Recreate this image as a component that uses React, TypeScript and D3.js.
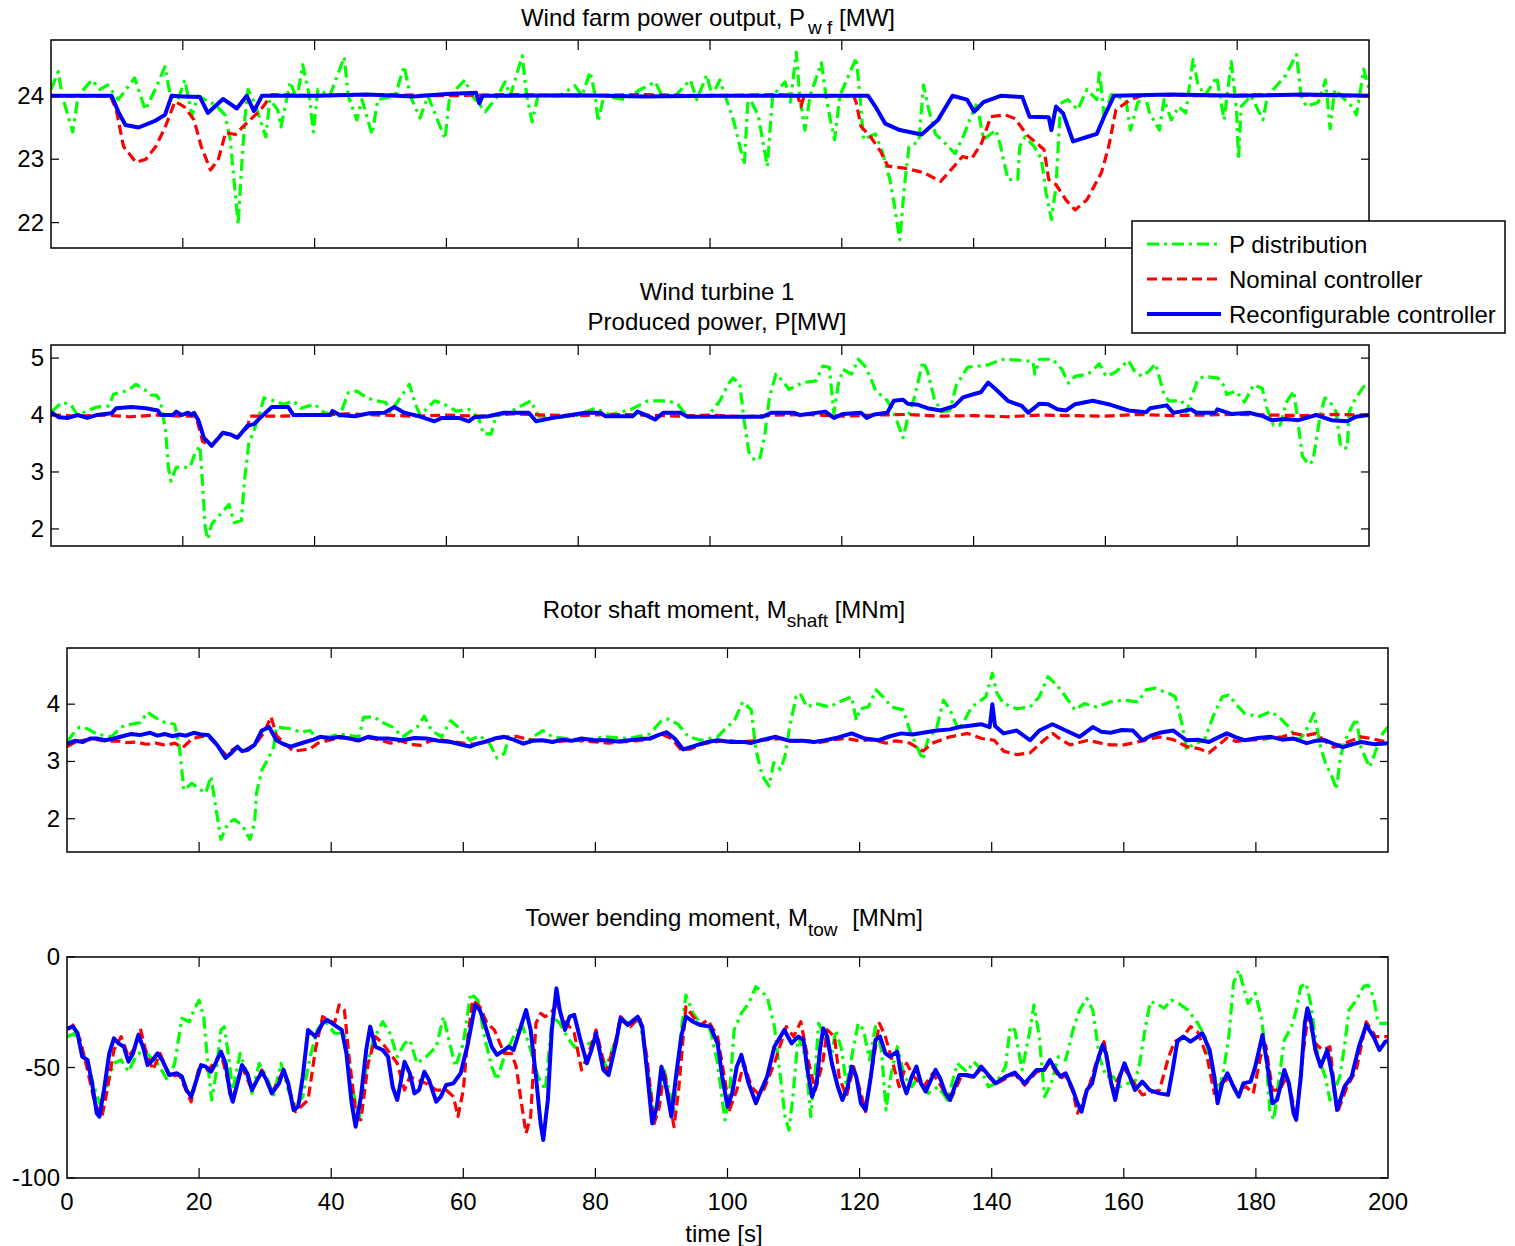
import React from "react";
import * as d3 from "d3";

type Pt = [number, number];

const FONT = '"Liberation Sans", Arial, Helvetica, sans-serif';

// time axis (shared)
const TIME_TICKS = [0, 20, 40, 60, 80, 100, 120, 140, 160, 180, 200];

const SERIES_LABELS = ["P distribution", "Nominal controller", "Reconfigurable controller"];

// ---------------- Wind farm power output [MW] ----------------
const pwfDist: Pt[] = [
  [0, 24.1], [1.1, 24.38], [1.7, 24], [3.3, 23.43], [4.1, 24], [6.2, 24.25], [7.4, 24.1], [8.6, 24.17],
  [10.2, 23.94], [12.7, 24.28], [14.3, 23.78], [15.8, 24.1], [17.3, 24.46], [18.1, 24], [19.3, 23.94],
  [20.3, 24.25], [21.4, 23.69], [22.3, 24], [23.4, 23.94], [24.9, 23.86], [26.4, 23.7], [27.2, 23.31],
  [27.9, 22.52], [28.4, 21.97], [28.8, 22.68], [29.4, 23.62], [29.9, 24.1], [31, 23.86], [32.6, 23.35],
  [33.2, 23.94], [34.4, 23.78], [34.9, 23.51], [36.3, 24.22], [37.3, 23.94], [38.2, 24.49], [39.2, 24],
  [39.8, 23.43], [40.5, 24.1], [42.3, 24], [44.5, 24.61], [45.1, 24], [46.4, 23.62], [47.2, 23.94],
  [48.7, 23.39], [49.6, 23.94], [52.2, 24], [53.6, 24.47], [54.5, 24], [56, 23.65], [57.2, 24],
  [59.8, 23.32], [60.5, 24], [62.8, 24.25], [63.9, 24], [65.9, 23.75], [67.8, 24], [68.9, 24.22],
  [69.7, 24], [71.5, 24.63], [72.2, 24], [73, 23.59], [73.9, 24], [77.2, 24], [79.5, 24.16], [80.6, 24],
  [81.8, 24.38], [82.6, 24], [83, 23.59], [83.9, 24], [87.1, 23.94], [89.4, 24.1], [91.7, 24.22],
  [92.7, 24], [94.7, 24], [97, 24.25], [98, 23.94], [99.5, 24.33], [100.3, 24], [101.5, 24.25],
  [102.3, 24], [103.6, 23.6], [105.2, 22.91], [105.8, 24], [107.3, 23.7], [108.7, 22.89], [109.5, 24],
  [111.4, 24.22], [112.2, 23.9], [113.1, 24.69], [113.6, 24], [114.4, 23.46], [115.2, 24], [116.9, 24.52],
  [117.6, 24], [118.2, 23.65], [118.9, 23.31], [119.7, 24], [122.2, 24.6], [122.8, 23.94], [123.3, 23.31],
  [125.1, 23.4], [126.2, 23.1], [127.3, 22.68], [128, 22.26], [128.8, 21.73], [129.5, 22.57], [130.2, 23.2],
  [131.7, 23.28], [132.4, 24.17], [133.2, 23.78], [134.2, 23.4], [135.7, 23.25], [137.2, 23.09],
  [138.6, 23.4], [139.4, 23.62], [140.5, 23.88], [141.5, 23.31], [143.4, 23.46], [144.1, 23.2],
  [145.2, 22.68], [146.7, 22.68], [147, 23.2], [147.8, 23.35], [149.2, 23.2], [150.3, 23.0], [151, 22.47],
  [151.8, 22.05], [152.5, 22.57], [153.2, 23.88], [154.3, 23.94], [155.8, 23.78], [157.2, 24.1],
  [158.7, 23.94], [159.1, 24.41], [159.8, 23.67], [160.9, 24.02], [163.1, 23.94], [163.8, 23.46],
  [164.9, 23.89], [166, 24], [166.7, 23.73], [168.2, 23.46], [168.9, 23.94], [170, 23.62], [171.1, 23.83],
  [172.2, 23.73], [173.3, 24.57], [174, 24.2], [175.1, 24], [176.9, 24.3], [178, 23.62], [179.1, 24.54],
  [179.9, 23.78], [180.2, 23.0], [180.6, 23.83], [182.1, 24], [183.9, 23.62], [184.6, 24], [187.2, 24.3],
  [189, 24.65], [189.7, 24], [190.5, 23.83], [192.3, 23.9], [193.4, 24.25], [194.1, 23.48], [194.8, 24.1],
  [197.4, 23.83], [198.1, 23.7], [199.2, 24.42], [200, 24.1],
];
const pwfNominal: Pt[] = [
  [0, 24], [9, 24], [9.9, 23.78], [11, 23.2], [12.9, 22.95], [14.4, 23.0], [15.9, 23.2], [17.3, 23.5],
  [18.8, 23.91], [20.2, 23.83], [21.7, 23.62], [22.8, 23.2], [24.2, 22.83], [25.4, 23.0], [26.5, 23.42],
  [28, 23.39], [29, 23.5], [30.6, 23.66], [31.7, 23.76], [33.5, 24.02], [40, 24], [50, 24.02], [60, 24],
  [70, 24.02], [80, 24], [90, 24.02], [100, 24], [110, 24.02], [113.3, 24], [113.8, 23.83], [114.3, 24],
  [121.8, 24], [122.2, 23.89], [122.9, 23.52], [124.4, 23.35], [125.9, 23.12], [127, 22.89], [129.5, 22.86],
  [132.4, 22.79], [135, 22.65], [136.8, 22.86], [138.3, 23.04], [139.7, 23.01], [141.2, 23.25],
  [142.6, 23.67], [144.8, 23.7], [146.3, 23.64], [148.1, 23.38], [149.6, 23.25], [150.7, 23.15],
  [151.4, 22.68], [152.5, 22.6], [154, 22.36], [155.4, 22.2], [157.2, 22.36], [159.4, 22.79], [160.5, 23.2],
  [161.6, 23.78], [163.8, 23.94], [166, 24.02], [175, 24], [185, 24.02], [195, 24], [200, 24],
];
const pwfReconf: Pt[] = [
  [0, 24], [9.2, 24], [10.3, 23.73], [11.3, 23.54], [13.3, 23.5], [15.7, 23.6], [17.3, 23.7], [18.3, 24],
  [20, 23.99], [22.6, 23.98], [23.8, 23.73], [26.1, 23.95], [28.2, 23.8], [29.7, 24], [30.8, 23.76], [32, 24],
  [40, 24], [48, 24.02], [55, 23.99], [60, 24.03], [64.5, 24.05], [65, 23.88], [65.5, 24], [70, 24],
  [80, 24.01], [90, 23.99], [100, 24], [110, 24], [124, 24], [125.1, 23.83], [126.6, 23.56], [128.8, 23.46],
  [132.1, 23.39], [134.6, 23.62], [136.8, 24], [139, 23.94], [140.1, 23.75], [141.5, 23.9], [144.1, 24],
  [147.4, 23.98], [148.5, 23.67], [151.4, 23.66], [151.8, 23.46], [152.5, 23.83], [153.6, 23.72],
  [155.1, 23.28], [157.2, 23.35], [158.7, 23.4], [159.8, 23.67], [161.3, 24], [170, 24.02], [180, 24],
  [190, 24.02], [200, 24],
];

// ---------------- Wind turbine 1, produced power [MW] ----------------
const pDist: Pt[] = [
  [0, 4.05], [1.6, 4.22], [3, 4.19], [4, 4.0], [6.9, 4.14], [8.8, 4.16], [9.5, 4.37], [10.7, 4.4],
  [11.8, 4.44], [12.9, 4.54], [14.4, 4.43], [15.2, 4.35], [16, 4.35], [16.6, 4.25], [17.4, 3.72],
  [17.8, 3.08], [18.2, 2.84], [19, 3.08], [21.1, 3.08], [21.8, 3.32], [22.6, 3.46], [23, 2.79], [23.4, 2.02],
  [23.8, 1.82], [24.4, 2.09], [25.5, 2.23], [27, 2.43], [27.8, 2.11], [28.9, 2.15], [29.3, 2.79], [30, 3.49],
  [31.5, 3.95], [32.3, 4.3], [33.8, 4.25], [35.3, 4.19], [36.8, 4.25], [37.9, 4.12], [40, 4.19], [41.5, 4.04],
  [43.8, 3.98], [45.1, 4.39], [46.4, 4.42], [48, 4.3], [49.4, 4.25], [50.8, 4.22], [51.5, 4.05], [52.5, 4.22],
  [53.7, 4.42], [54.4, 4.54], [55.2, 4.22], [56, 4.0], [58.2, 4.25], [59.7, 4.19], [61.5, 4.07], [63.4, 4.1],
  [64.9, 3.95], [65.6, 3.67], [66.8, 3.67], [67.5, 3.98], [69.4, 4.04], [72.8, 4.25], [74, 3.98], [76.3, 3.95],
  [80, 4.0], [82.6, 4.12], [84.9, 4.0], [88, 4.1], [90.6, 4.25], [93.6, 4.25], [95.1, 4.19], [96.6, 3.97],
  [99.7, 3.98], [101.5, 4.25], [102.8, 4.55], [103.5, 4.65], [104.5, 4.55], [105.2, 3.89], [105.9, 3.35],
  [106.8, 3.2], [107.6, 3.25], [108.3, 3.64], [109, 4.3], [110, 4.72], [111, 4.6], [112, 4.45], [114.1, 4.57],
  [116.1, 4.6], [117.1, 4.86], [118.1, 4.84], [118.8, 4.03], [119.5, 4.56], [120.2, 4.8], [121.5, 4.72],
  [122.5, 4.98], [123.5, 4.86], [124.2, 4.7], [125.2, 4.41], [126.6, 4.3], [127.6, 4.12], [128.6, 3.82],
  [129.3, 3.6], [130, 3.95], [131, 4.3], [132.3, 4.94], [133, 4.77], [134, 4.3], [135.1, 4.06], [136.4, 4.08],
  [137.4, 4.53], [139.1, 4.84], [141.8, 4.87], [144.6, 4.98], [147.3, 4.96], [149, 4.94], [149.3, 4.72],
  [150, 4.98], [152, 4.98], [153.4, 4.8], [154.4, 4.56], [155.4, 4.68], [157.4, 4.72], [159.1, 4.9],
  [160.1, 4.68], [161.5, 4.75], [163.5, 4.96], [164.5, 4.75], [165.6, 4.68], [166.6, 4.77], [167.6, 4.9],
  [168.3, 4.62], [168.9, 4.36], [169.6, 4.25], [171.6, 4.25], [172.3, 4.05], [172.8, 4.23], [174, 4.62],
  [175, 4.68], [177.1, 4.65], [178.1, 4.5], [178.4, 4.36], [179.8, 4.42], [181.1, 4.23], [182.5, 4.53],
  [183.8, 4.47], [184.5, 4.12], [185.5, 3.82], [186.5, 3.82], [187.5, 4.23], [188.6, 4.42], [189.2, 3.89],
  [189.9, 3.27], [190.9, 3.13], [191.5, 3.2], [192.6, 4.0], [193.3, 4.3], [194, 4.25], [195, 4.06],
  [195.7, 3.44], [196.7, 3.42], [197, 4.06], [198, 4.3], [199.4, 4.53], [200, 4.55],
];
const pNominal: Pt[] = [
  [0, 4.0], [4, 3.98], [8, 4.0], [12, 3.97], [16, 4.0], [20, 3.98], [22, 3.98], [23, 3.54], [24.3, 3.46],
  [26, 3.69], [28.2, 3.6], [29.8, 3.78], [30.2, 3.98], [35, 3.98], [40, 4.0], [45, 4.02], [50, 4.0],
  [55, 3.98], [60, 4.0], [65, 3.98], [70, 4.02], [75, 4.0], [80, 3.99], [85, 4.01], [90, 4.0], [95, 3.98],
  [100, 4.0], [105, 3.97], [110, 4.0], [115, 4.01], [120, 3.98], [125, 4.0], [130, 4.01], [135, 3.98],
  [140, 3.99], [145, 3.97], [150, 4.0], [155, 3.99], [160, 3.98], [165, 4.01], [170, 3.99], [175, 4.0],
  [180, 4.01], [185, 4.0], [190, 3.99], [195, 4.01], [200, 4.0],
];
const pReconf: Pt[] = [
  [0, 4.05], [1.2, 3.96], [2.6, 3.95], [4, 4.0], [5.5, 3.95], [6.9, 4.0], [9.2, 4.03], [9.9, 4.12],
  [12.2, 4.14], [14.4, 4.12], [16.2, 4.08], [16.7, 4.0], [18.5, 4.0], [19, 4.06], [19.8, 4.0], [20.8, 4.04],
  [21.3, 4.0], [21.7, 4.04], [22.4, 3.9], [23.2, 3.6], [24.4, 3.46], [26.1, 3.69], [27.2, 3.66], [28.3, 3.6],
  [29.8, 3.81], [30.8, 3.84], [32, 3.98], [33.5, 4.14], [36, 4.14], [36.8, 4.0], [42.4, 4.0], [42.7, 4.07],
  [43.8, 4.0], [46.1, 3.98], [48.3, 4.03], [50.6, 4.04], [52.1, 4.14], [53.6, 4.04], [55.8, 3.98],
  [58.2, 3.89], [59.3, 3.95], [61.9, 3.95], [63.4, 3.89], [64.2, 3.96], [66.4, 3.98], [68.7, 4.04],
  [72.5, 4.04], [73.6, 3.89], [76.2, 3.95], [77.7, 3.98], [81.1, 4.04], [83.4, 4.04], [84.1, 3.98],
  [88.3, 3.98], [89, 4.06], [90.6, 3.98], [91.7, 3.92], [92.9, 4.04], [95.5, 4.04], [96.6, 3.97],
  [99.7, 3.97], [108, 3.97], [109.3, 4.04], [112.7, 4.04], [113.7, 4.0], [117.5, 4.06], [118.8, 3.95],
  [120.2, 4.02], [122.9, 4.04], [123.8, 3.95], [124.9, 4.01], [126.9, 4.04], [127.9, 4.25], [129.3, 4.27],
  [130, 4.2], [131.6, 4.18], [133, 4.12], [135, 4.08], [137.1, 4.16], [138.4, 4.31], [140.1, 4.37],
  [141.1, 4.4], [142.2, 4.57], [143.2, 4.47], [145.2, 4.25], [147.3, 4.16], [148.3, 4.04], [150, 4.2],
  [151.3, 4.19], [152.7, 4.1], [154, 4.08], [155.4, 4.19], [158.1, 4.25], [160.8, 4.18], [163.5, 4.08],
  [166.2, 4.05], [166.8, 4.12], [169.3, 4.17], [170.3, 4.04], [171.3, 4.06], [173, 4.1], [173.8, 4.04],
  [176.7, 4.04], [177, 4.1], [179.1, 4.02], [181.8, 4.04], [183.9, 3.98], [185.2, 3.91], [187.3, 3.93],
  [189.3, 3.91], [192, 4.0], [194.3, 3.91], [196.7, 3.89], [198, 3.97], [200, 4.0],
];

// ---------------- Rotor shaft moment [MNm] ----------------
const mShaftDist: Pt[] = [
  [0, 3.34], [0.9, 3.48], [1.9, 3.6], [3.1, 3.57], [4.5, 3.48], [6.7, 3.43], [8.2, 3.6], [9.7, 3.65],
  [11.1, 3.68], [12.2, 3.86], [13.3, 3.77], [14.8, 3.68], [16.3, 3.65], [17, 3.26], [17.7, 2.5], [18.9, 2.62],
  [19.9, 2.53], [21, 2.45], [21.8, 2.74], [22.5, 2.22], [23.3, 1.64], [24.4, 1.93], [25.4, 1.99],
  [26.6, 1.87], [27.7, 1.64], [28.4, 1.93], [28.7, 2.45], [29.5, 2.85], [30.6, 3.08], [31.3, 3.26],
  [31.7, 3.6], [33.9, 3.57], [35.4, 3.51], [36.8, 3.54], [37.6, 3.43], [39.8, 3.43], [41.2, 3.48],
  [44.2, 3.43], [44.9, 3.77], [46.4, 3.78], [47.8, 3.68], [49.3, 3.6], [50.8, 3.43], [53, 3.6], [54.1, 3.79],
  [55.2, 3.54], [56.7, 3.43], [58.1, 3.71], [59.2, 3.6], [61, 3.37], [62.5, 3.45], [64, 3.31], [65.1, 3.06],
  [66.2, 3.14], [66.9, 3.43], [69.1, 3.31], [70.6, 3.43], [72, 3.54], [73.5, 3.43], [77.9, 3.37],
  [81.6, 3.43], [85, 3.4], [88.2, 3.48], [90, 3.71], [91.1, 3.74], [92.5, 3.65], [94.1, 3.43], [96, 3.37],
  [98.5, 3.43], [99.9, 3.6], [101, 3.7], [102.3, 4.04], [103.6, 3.9], [104.3, 3.2], [105.3, 2.74],
  [106.3, 2.57], [107, 2.98], [108, 2.86], [108.7, 3.09], [109.4, 3.6], [110.4, 4.13], [111, 4.19],
  [112, 3.95], [113.4, 4.01], [115.4, 3.95], [117.5, 4.07], [118.8, 4.13], [119.5, 3.72], [120.1, 3.92],
  [121.3, 3.95], [122.5, 4.25], [123.5, 4.13], [124.9, 3.95], [126.6, 3.9], [127.6, 3.54], [128.9, 3.2],
  [129.6, 3.03], [130.3, 3.37], [131.7, 3.6], [132.7, 4.07], [133.7, 3.9], [135, 3.54], [137, 3.95],
  [139.1, 4.13], [140.1, 4.54], [140.8, 4.19], [141.8, 4.01], [143.8, 3.92], [145.8, 3.95], [147.2, 4.13],
  [148.5, 4.48], [149.9, 4.33], [151.2, 4.13], [152.6, 3.9], [154, 4.01], [155.9, 3.95], [158, 4.04],
  [160, 4.07], [162.1, 4.04], [163.4, 4.25], [164.7, 4.28], [166.8, 4.19], [167.8, 4.13], [168.8, 3.66],
  [169.5, 3.2], [170.5, 3.3], [172.2, 3.37], [173.5, 3.78], [174.9, 4.13], [175.9, 4.16], [176.9, 4.01],
  [178.3, 3.84], [180.3, 3.78], [182.3, 3.87], [183.7, 3.75], [185, 3.6], [186.4, 3.37], [187.4, 3.49],
  [188.8, 3.84], [189.8, 3.25], [190.5, 2.98], [191.5, 2.74], [192.2, 2.51], [192.8, 3.09], [193.5, 3.37],
  [194.5, 3.6], [195.2, 3.75], [195.9, 3.25], [197.2, 2.9], [198.2, 3.2], [199.2, 3.49], [200, 3.6],
];
const mShaftNominal: Pt[] = [
  [0, 3.26], [1.5, 3.35], [3, 3.38], [4.5, 3.38], [6, 3.35], [7.5, 3.36], [9, 3.33], [10.5, 3.34], [12, 3.3],
  [13.5, 3.32], [15, 3.28], [16.3, 3.32], [17.5, 3.24], [19, 3.4], [20.5, 3.44], [21.7, 3.4], [22.7, 3.28],
  [24, 3.12], [25.5, 3.24], [27, 3.2], [28.5, 3.3], [29.8, 3.5], [30.9, 3.78], [31.7, 3.45], [32.9, 3.32],
  [34.3, 3.18], [35.6, 3.2], [36.8, 3.22], [38, 3.32], [40, 3.38], [42, 3.42], [44, 3.36], [46, 3.41],
  [47.5, 3.37], [49, 3.32], [50.5, 3.36], [52, 3.3], [53.5, 3.28], [55, 3.36], [56.5, 3.38], [58, 3.35],
  [60, 3.32], [62, 3.3], [64, 3.36], [66, 3.42], [68, 3.44], [70, 3.38], [72, 3.36], [74, 3.34], [76, 3.37],
  [78, 3.36], [80, 3.34], [82, 3.32], [84, 3.34], [86, 3.36], [88, 3.38], [90, 3.48], [91.5, 3.4], [93, 3.2],
  [94.5, 3.22], [96, 3.3], [98, 3.34], [100, 3.37], [102, 3.34], [104, 3.36], [106, 3.38], [108, 3.4],
  [110, 3.35], [112, 3.36], [114, 3.33], [116, 3.38], [118, 3.4], [120, 3.36], [122, 3.38], [124, 3.32],
  [125.5, 3.36], [127.6, 3.32], [129.6, 3.18], [131, 3.32], [133.7, 3.43], [136.4, 3.49], [138.5, 3.4],
  [140.4, 3.37], [141.8, 3.18], [143.8, 3.12], [145.8, 3.15], [147.9, 3.37], [149.2, 3.49], [150.5, 3.38],
  [151.9, 3.29], [154.6, 3.37], [156.5, 3.32], [158, 3.29], [160, 3.29], [162.5, 3.35], [165.4, 3.43],
  [167.5, 3.38], [169.5, 3.26], [171.5, 3.22], [172.9, 3.15], [174.5, 3.3], [175.6, 3.41], [177, 3.35],
  [178.5, 3.37], [180.5, 3.38], [182.3, 3.41], [184, 3.43], [185.7, 3.49], [187.5, 3.45], [189.1, 3.49],
  [190.5, 3.35], [191.8, 3.25], [193.5, 3.32], [195.9, 3.43], [197.5, 3.4], [199, 3.36], [200, 3.34],
];
const mShaftReconf: Pt[] = [
  [0, 3.31], [1.2, 3.36], [2.4, 3.34], [3.5, 3.4], [4.5, 3.4], [5.8, 3.37], [7.1, 3.4], [8.4, 3.44],
  [9.7, 3.48], [11, 3.46], [12.6, 3.5], [13.7, 3.45], [14.8, 3.48], [16, 3.44], [17, 3.47], [18, 3.45],
  [19.2, 3.5], [20.3, 3.47], [21.4, 3.46], [22.2, 3.36], [22.9, 3.26], [24, 3.06], [24.9, 3.15], [25.8, 3.26],
  [26.5, 3.18], [27.3, 3.2], [28.4, 3.29], [29.5, 3.54], [30.6, 3.6], [31.7, 3.37], [32.8, 3.3], [33.9, 3.26],
  [35, 3.3], [36.1, 3.34], [37.3, 3.38], [38.4, 3.43], [39.8, 3.4], [41.2, 3.43], [42.7, 3.4], [44.2, 3.37],
  [45.6, 3.43], [47.1, 3.4], [48.6, 3.4], [50.8, 3.37], [52.6, 3.41], [54.4, 3.4], [56.2, 3.36],
  [58.1, 3.34], [59.5, 3.3], [61, 3.26], [62.1, 3.31], [63.2, 3.34], [64.7, 3.4], [66.2, 3.43], [67.6, 3.38],
  [69.1, 3.31], [70.5, 3.36], [72, 3.37], [73.5, 3.34], [74.9, 3.38], [76.4, 3.36], [77.9, 3.4], [79.7, 3.37],
  [81.6, 3.37], [83.4, 3.35], [85.2, 3.37], [86.7, 3.39], [88.2, 3.4], [89.5, 3.46], [90.8, 3.51], [92, 3.4],
  [93.3, 3.21], [94.4, 3.25], [95.5, 3.29], [97, 3.34], [98.5, 3.37], [100.5, 3.34], [102.6, 3.34],
  [103.5, 3.32], [105.4, 3.38], [107.3, 3.43], [109.4, 3.36], [111.4, 3.36], [113.1, 3.34], [114.8, 3.37],
  [116.8, 3.42], [118.8, 3.49], [120.8, 3.4], [122.9, 3.37], [124.6, 3.44], [126.3, 3.49], [128, 3.47],
  [129.6, 3.5], [131.7, 3.54], [133.7, 3.56], [135, 3.6], [136.4, 3.62], [138.4, 3.65], [139.7, 3.6],
  [140.1, 4.0], [140.5, 3.62], [141.8, 3.49], [143.8, 3.54], [145.8, 3.37], [147.2, 3.54], [149.2, 3.65],
  [151.2, 3.54], [153.3, 3.43], [155.3, 3.6], [156.6, 3.52], [158, 3.5], [159.7, 3.55], [161.4, 3.54],
  [162.8, 3.37], [164.1, 3.45], [165.4, 3.5], [167.5, 3.54], [169.5, 3.37], [171.2, 3.38], [172.9, 3.34],
  [174.3, 3.42], [175.6, 3.49], [177, 3.42], [178.3, 3.37], [180.3, 3.41], [182.3, 3.43], [184, 3.38],
  [185.7, 3.4], [187.7, 3.32], [189, 3.36], [190.5, 3.37], [191.9, 3.3], [193.2, 3.25], [194.6, 3.3],
  [195.9, 3.34], [198, 3.3], [200, 3.32],
];

// ---------------- Tower bending moment [MNm] ----------------
const mTowDist: Pt[] = [
  [0.1, -36], [1.2, -34.5], [2.3, -42.1], [3.8, -55.6], [4.9, -66.2], [6, -58.7], [7.1, -48.1], [8.2, -46.6],
  [9.3, -51.9], [10.4, -45.1], [11.5, -42.1], [12.6, -45.1], [13.7, -48.1], [15.2, -55.6], [16.3, -48.1],
  [17.4, -27.7], [18.5, -29.3], [19.2, -24], [20, -19.5], [20.7, -27], [21.4, -51.1], [21.9, -64.7],
  [22.5, -54.1], [23.3, -33], [23.8, -31.5], [24.4, -43.6], [25.1, -60.2], [26.2, -43.6], [26.9, -49.6],
  [28, -61.7], [29.1, -48.1], [30.2, -54.1], [31.3, -62.4], [32.4, -48.1], [33.5, -60.2], [34.6, -67.7],
  [35.7, -63.2], [36.8, -45.1], [37.9, -33], [39, -28.5], [40.5, -34.5], [42, -34.5], [43.1, -57.2],
  [44.2, -73.7], [45.3, -49.6], [46.4, -37.5], [47.8, -29.3], [48.9, -34.5], [50, -45.1], [51.1, -39.1],
  [51.9, -37.5], [53, -48.1], [54.4, -45.1], [55.9, -40.6], [57, -27], [57.7, -36], [58.8, -49.6],
  [60, -39.1], [61.1, -16.4], [62.2, -19.5], [63.2, -36], [64.3, -49.6], [65.1, -55.6], [66.2, -45.1],
  [67.6, -36], [68.8, -30], [69.9, -39.1], [71.3, -54.1], [72.4, -60.2], [73.5, -27], [74.6, -30],
  [75.7, -36], [76.8, -40.6], [77.9, -42.1], [79, -39.1], [80.1, -38], [81.6, -49.6], [83.1, -37.5],
  [83.8, -28.5], [85.3, -30], [86.7, -28.5], [87.8, -48.1], [88.9, -72.2], [89.7, -63.2], [90.4, -51.1],
  [91.9, -69.2], [93, -33], [93.7, -17.2], [94.8, -25.5], [95.9, -30], [97.4, -33], [98.5, -48.1],
  [99.6, -73.7], [100.3, -62], [101, -33], [102.1, -25.5], [103.2, -21], [104.3, -13.4], [106, -17.9],
  [107.1, -31.5], [108, -54.1], [108.7, -72.2], [109.3, -78.3], [109.9, -63.2], [110.7, -36], [111.8, -45.1],
  [112.6, -72.2], [113.3, -51.1], [113.8, -30], [114.7, -36], [115.7, -45.1], [116.4, -33], [117.3, -42.1],
  [118, -58.7], [118.9, -43.6], [119.8, -30], [120.6, -33], [121.5, -46.6], [122.4, -31.5], [123.3, -42.1],
  [124, -69.2], [124.7, -54.1], [125.7, -40.6], [126.8, -54.1], [127.9, -58.7], [128.9, -54.1],
  [130.4, -61.7], [131.9, -58.7], [133.3, -64.7], [134.8, -48.1], [136.2, -51.9], [137.3, -47.4],
  [138.4, -51.1], [139.5, -58.7], [140.6, -57.2], [142.1, -49.6], [142.8, -31.5], [143.5, -33],
  [144.6, -51.1], [145.7, -34.5], [146.4, -21.7], [147.2, -36], [148, -63.2], [149, -57.2], [150.1, -45.1],
  [151.2, -46.6], [152.3, -33], [153.3, -24], [154.4, -18.7], [155.3, -24], [156.3, -45.1], [157.3, -54.1],
  [158.4, -54.1], [159.5, -58.7], [160.6, -57.2], [161.7, -56.4], [162.4, -48.1], [163.2, -33], [164, -20.2],
  [165, -21], [166.1, -23.2], [167.2, -19.5], [168.3, -21], [169.7, -24], [171.2, -30], [172.3, -36],
  [173.4, -51.1], [174.5, -60.2], [175.2, -49.6], [175.9, -36], [176.6, -11.9], [177.4, -5.9],
  [178.1, -13.4], [178.8, -21], [179.9, -16.4], [180.8, -27], [181.4, -40.6], [182.1, -69.2], [182.7, -73.7],
  [183.4, -57.2], [184.3, -37.5], [185.4, -31.5], [186.1, -24], [186.8, -13.4], [187.6, -11.9], [188.3, -21],
  [189.4, -45.1], [190.5, -54.1], [191.2, -64.7], [191.9, -60.2], [192.7, -54.1], [193.4, -40.6],
  [194.1, -24], [195.2, -19.5], [196.3, -13.4], [197, -12.7], [197.8, -17.9], [198.5, -30], [200, -30],
];
const mTowNominal: Pt[] = [
  [0.1, -33], [0.9, -30.8], [2, -37.5], [3.1, -51.1], [4.2, -66.2], [5.3, -72.2], [6, -61.7], [7.1, -42.1],
  [8.2, -36], [9.3, -45.1], [10.4, -40.6], [11.1, -32.3], [11.9, -42.1], [13, -51.1], [14.1, -43.6],
  [15.5, -54.1], [17, -53.4], [18.8, -65.5], [19.9, -51.1], [21.4, -51.1], [23.3, -43.6], [25.1, -64.7],
  [26.5, -49.6], [28, -60.2], [29.5, -51.1], [31, -61.7], [32.8, -51.1], [34.6, -70], [36.5, -64.7],
  [37.6, -42.1], [38.7, -27], [40.5, -30], [41.2, -21.7], [42, -24], [42.7, -45.1], [43.8, -72.2],
  [44.5, -73.7], [45.6, -48.1], [46.7, -36], [47.8, -39.1], [48.9, -43.6], [50, -48.1], [51.1, -60.2],
  [51.9, -54.1], [53, -55.6], [54.4, -57.2], [55.9, -60.2], [57.4, -60.2], [58.5, -63.2], [59.2, -72.2],
  [60, -60.2], [60.7, -36], [61.4, -19.5], [62.5, -22.5], [63.6, -30], [64.7, -33], [66.2, -43.6],
  [67.3, -43.6], [68, -49.6], [68.8, -66.2], [69.5, -79.8], [70.2, -72.2], [71, -30], [71.7, -25.5],
  [72.4, -27], [73.2, -25.5], [74.3, -21], [75, -28.5], [75.7, -30], [76.8, -34.5], [77.9, -51.1],
  [79, -43.6], [80.1, -33], [81.6, -51.9], [83.1, -37.5], [83.8, -27], [85.3, -31.5], [86.7, -27],
  [87.8, -45.1], [88.9, -75.3], [89.7, -67.7], [90.4, -51.1], [91.9, -76.8], [92.6, -60.2], [93.7, -22.5],
  [94.8, -27], [95.9, -30.8], [97, -28.5], [98.5, -36], [99.6, -55.6], [100.3, -69.2], [101.4, -60.2],
  [102.5, -48.1], [103.6, -58.7], [104.7, -62], [105.5, -60], [107.1, -48.1], [108.9, -31.5], [110, -36],
  [111.1, -29.3], [112.2, -46.6], [113.3, -60.2], [114.4, -48.1], [115.1, -33], [116.2, -36], [116.9, -54.1],
  [118, -63.2], [119.1, -49.6], [120.2, -61.7], [120.9, -70], [122, -48.1], [123, -30], [123.9, -36],
  [124.9, -46.6], [126, -58.7], [127.1, -48.1], [128.2, -54.1], [129.7, -58.7], [131.1, -52.6], [133, -61.7],
  [134, -63.2], [135.5, -53.4], [137.3, -54.5], [138.4, -50.5], [139.5, -54], [140.6, -57.5], [142.1, -55],
  [143.5, -53], [145, -58], [146.8, -52], [147.9, -51.5], [148.8, -47.5], [149.7, -52], [150.4, -55],
  [151.2, -53.5], [152.3, -61], [153, -70.7], [154.8, -58], [155.9, -47], [157, -38.3], [158.4, -60.2],
  [159.9, -49.6], [161.3, -56], [162.8, -62.4], [165.4, -60.2], [166.8, -45.1], [167.7, -38.3], [169, -36],
  [170.1, -31.5], [171.2, -34], [172.6, -45.1], [173.7, -61.7], [174.8, -57], [175.9, -55], [177, -60.2],
  [178.5, -58.7], [179.6, -61.7], [180.7, -45.1], [181.5, -40], [182.5, -60.2], [183.6, -60.2], [184.7, -54],
  [186.1, -72.2], [187.2, -42.1], [187.9, -27], [189, -39.1], [190.1, -42.1], [191.2, -40.6], [192.3, -70.7],
  [193.8, -58.7], [195.2, -51.1], [196.7, -29.3], [198.1, -36], [200, -36],
];
const mTowReconf: Pt[] = [
  [0.1, -32.3], [0.9, -31.5], [1.6, -34.5], [2.3, -45.1], [3.1, -46.6], [3.8, -57.2], [4.5, -70.7],
  [4.9, -72.2], [5.6, -60.2], [6.4, -43.6], [7.1, -36.8], [7.8, -39.1], [8.6, -40.6], [9.3, -47.4],
  [10, -43.6], [10.8, -35.3], [11.5, -40.6], [12.2, -48.9], [13, -46.6], [13.7, -43.6], [14.4, -46.6],
  [15.5, -53.4], [16.6, -52.6], [17.4, -54.1], [18.1, -60.2], [18.8, -63.2], [19.6, -55.6], [20.3, -48.9],
  [21, -49.6], [21.8, -51.9], [22.5, -48.1], [23.3, -42.8], [24, -48.1], [24.7, -61.7], [25.1, -65.5],
  [25.8, -57.2], [26.5, -48.9], [27.3, -52.6], [28, -60.2], [28.8, -55.6], [29.5, -51.9], [30.2, -55.6],
  [31, -61.7], [32.1, -57.2], [32.8, -51.1], [33.5, -57.2], [34.3, -69.2], [35, -67.7], [35.7, -54.1],
  [36.5, -33], [37.6, -36], [38.7, -30], [39.4, -28.5], [40.5, -30.8], [41.6, -33], [42.3, -43.6],
  [43.1, -66.2], [43.7, -76.8], [44.5, -63.2], [45.3, -42.1], [45.9, -31.5], [46.7, -40.6], [47.8, -42.1],
  [48.6, -45.1], [49.3, -58.7], [50, -64.7], [51.1, -47.4], [51.9, -52.6], [52.6, -61.7], [53.3, -60.2],
  [54.1, -51.9], [54.8, -55.6], [55.9, -65.5], [56.6, -63.2], [57.4, -57.9], [58.5, -57.2], [59.6, -52.6],
  [60.7, -39.1], [61.8, -21.7], [62.5, -24], [63.2, -30], [64.3, -40.6], [65.1, -44.3], [66.2, -42.1],
  [66.9, -40.6], [67.6, -42.1], [68.4, -34.5], [69.5, -24], [70.2, -33], [71, -54.1], [71.7, -75.3],
  [72.1, -82.8], [72.8, -64.7], [73.4, -33], [74.1, -14.2], [74.6, -24], [75.4, -33], [76.1, -27],
  [76.8, -26.2], [77.6, -36], [78.7, -48.1], [79.4, -42.1], [80.1, -34.5], [81.2, -51.1], [82, -53.4],
  [83.1, -39.1], [83.8, -27.7], [84.9, -30.8], [86.4, -27], [87.1, -31.5], [87.8, -51.1], [88.6, -75.3],
  [89.3, -67.7], [90, -49.6], [90.8, -60.2], [91.5, -72.2], [92.2, -54.1], [93, -36], [93.7, -27],
  [94.8, -29.3], [95.9, -30.8], [97.4, -31.5], [98.5, -39.1], [99.2, -54.1], [100, -67.7], [100.7, -61.7],
  [101.4, -49.6], [102.1, -44.3], [103.2, -57.2], [104.3, -66.2], [104.9, -61.7], [106, -54.1],
  [107.1, -40.6], [108.6, -33], [109.7, -39.1], [110.7, -36], [111.5, -37.5], [112.2, -52.6], [112.8, -63.2],
  [113.5, -57.2], [114, -42.1], [114.5, -32.3], [115.1, -36], [115.8, -48.1], [116.7, -58.7], [117.4, -64.7],
  [118.2, -58.7], [118.8, -49.6], [119.5, -54.1], [120.2, -66.2], [120.9, -69.2], [121.7, -54.1],
  [122.4, -37.5], [123.1, -36], [123.9, -43.6], [124.6, -45.1], [125.7, -42.8], [126.4, -55.6],
  [127.1, -61.7], [127.9, -54.1], [128.6, -49.6], [129.3, -57.2], [130, -60.9], [130.8, -55.6],
  [131.5, -51.1], [132.2, -54.9], [133, -61.7], [133.7, -64.7], [134.4, -58.7], [135.1, -53.4],
  [136.2, -53.4], [137.3, -54.1], [138.4, -49.6], [139.5, -53.4], [140.6, -57.2], [142.1, -54.1],
  [143.5, -52.3], [145, -57.2], [146.8, -51.1], [147.9, -51.1], [148.8, -46.6], [149.7, -51.1],
  [150.4, -54.1], [151.2, -52.6], [152.3, -60.2], [153, -66.2], [153.6, -70], [154.4, -60.2], [155.2, -57.2],
  [155.9, -48.1], [156.8, -39.8], [157.3, -43.6], [158.1, -57.2], [158.7, -64.7], [159.4, -54.1],
  [160.1, -48.1], [161, -54.9], [161.7, -60.2], [162.8, -56.4], [163.9, -60.2], [165.4, -61.7],
  [166.7, -62.4], [167.4, -51.1], [168.1, -38.3], [169, -36], [170.1, -38.3], [171.2, -36], [171.9, -34.5],
  [173, -42.1], [173.7, -54.1], [174.2, -66.2], [174.9, -57.2], [175.7, -52.6], [176.6, -58.7],
  [177.4, -63.2], [178.1, -57.2], [179.2, -56.4], [179.9, -49.6], [181, -35.3], [181.7, -48.1],
  [182.5, -66.2], [183.2, -64.7], [184.3, -51.1], [185, -57.2], [185.7, -70.7], [186.1, -73.7],
  [186.8, -54.1], [187.4, -30], [187.8, -23.2], [188.3, -28.5], [189, -42.1], [189.8, -49.6], [190.8, -42.1],
  [191.6, -54.1], [192.3, -69.2], [193.4, -58.7], [194.5, -54.1], [195.6, -40.6], [196.7, -30.8],
  [197.8, -36], [198.7, -42.1], [199.6, -38.3], [200, -38],
];

// line styles: distribution, nominal, reconfigurable
const STYLES = [
  { color: "#00ff00", dash: "12 5 3 5", width: 3.2 },
  { color: "#ff0000", dash: "10 5", width: 3.2 },
  { color: "#0000ff", dash: undefined as string | undefined, width: 4 },
];

const panels = [
  { id: "pwf", left: 51, right: 1369, top: 40, bottom: 248, yDomain: [21.6, 24.88], yTicks: [22, 23, 24], labelX: 44,
    series: [pwfDist, pwfNominal, pwfReconf] },
  { id: "pwt", left: 51, right: 1369, top: 345, bottom: 546, yDomain: [1.7, 5.23], yTicks: [2, 3, 4, 5], labelX: 44,
    series: [pDist, pNominal, pReconf] },
  { id: "msh", left: 67, right: 1388, top: 648, bottom: 852, yDomain: [1.42, 4.98], yTicks: [2, 3, 4], labelX: 60,
    series: [mShaftDist, mShaftNominal, mShaftReconf] },
  { id: "mtw", left: 67, right: 1388, top: 957, bottom: 1178, yDomain: [-100, 0], yTicks: [-100, -50, 0], labelX: 60,
    series: [mTowDist, mTowNominal, mTowReconf] },
];

function Panel({ p, showX }: { p: typeof panels[number]; showX: boolean }) {
  const x = d3.scaleLinear().domain([0, 200]).range([p.left, p.right]);
  const y = d3.scaleLinear().domain(p.yDomain).range([p.bottom, p.top]);
  const line = d3.line<Pt>().x((d) => x(d[0])).y((d) => y(d[1]));
  const inner = TIME_TICKS.slice(1, -1);
  return (
    <g>
      <defs>
        <clipPath id={`clip-${p.id}`}>
          <rect x={p.left} y={p.top} width={p.right - p.left} height={p.bottom - p.top} />
        </clipPath>
      </defs>
      <rect x={p.left} y={p.top} width={p.right - p.left} height={p.bottom - p.top} fill="#fff" />
      <g clipPath={`url(#clip-${p.id})`}>
        {p.series.map((s, i) => (
          <path key={i} d={line(s) || ""} fill="none" stroke={STYLES[i].color}
            strokeWidth={STYLES[i].width} strokeDasharray={STYLES[i].dash} strokeLinejoin="round" />
        ))}
      </g>
      {inner.map((t) => (
        <g key={t} stroke="#000" strokeWidth={1.2}>
          <line x1={x(t)} x2={x(t)} y1={p.top} y2={p.top + 10} />
          <line x1={x(t)} x2={x(t)} y1={p.bottom} y2={p.bottom - 10} />
        </g>
      ))}
      {p.yTicks.map((v) => (
        <g key={v}>
          <line x1={p.left} x2={p.left + 8} y1={y(v)} y2={y(v)} stroke="#000" strokeWidth={1.2} />
          <line x1={p.right} x2={p.right - 8} y1={y(v)} y2={y(v)} stroke="#000" strokeWidth={1.2} />
          <text x={p.labelX} y={y(v) + 8} textAnchor="end" fontSize={24}>{v}</text>
        </g>
      ))}
      <rect x={p.left} y={p.top} width={p.right - p.left} height={p.bottom - p.top} fill="none"
        stroke="#000" strokeWidth={1.5} />
      {showX && TIME_TICKS.map((t) => (
        <text key={t} x={x(t)} y={p.bottom + 32} textAnchor="middle" fontSize={24}>{t}</text>
      ))}
    </g>
  );
}

export default function App() {
  const legendX = 1132;
  const legendY = 221;
  return (
    <svg width={1515} height={1246} viewBox="0 0 1515 1246" fontFamily={FONT}
      style={{ display: "block", position: "absolute", left: 0, top: 0, background: "#fff" }}>
      <rect width={1515} height={1246} fill="#fff" />
      {panels.map((p, i) => (
        <Panel key={p.id} p={p} showX={i === panels.length - 1} />
      ))}

      <text x={708} y={26} textAnchor="middle" fontSize={24}>
        Wind farm power output, P<tspan fontSize={19} dy={8} dx={3}>w f</tspan>
        <tspan dy={-8}> [MW]</tspan>
      </text>
      <text x={717} y={300} textAnchor="middle" fontSize={24}>Wind turbine 1</text>
      <text x={717} y={330} textAnchor="middle" fontSize={24}>Produced power, P[MW]</text>
      <text x={724} y={618} textAnchor="middle" fontSize={24}>
        Rotor shaft moment, M<tspan fontSize={19} dy={9}>shaft</tspan>
        <tspan dy={-9}> [MNm]</tspan>
      </text>
      <text x={724} y={926} textAnchor="middle" fontSize={24}>
        Tower bending moment, M<tspan fontSize={19} dy={10}>tow</tspan>
        <tspan dy={-10} dx={8}> [MNm]</tspan>
      </text>
      <text x={724} y={1242} textAnchor="middle" fontSize={24}>time [s]</text>

      <g>
        <rect x={legendX} y={legendY} width={373} height={112} fill="#fff" stroke="#000" strokeWidth={1.5} />
        {SERIES_LABELS.map((lab, i) => {
          const cy = legendY + 23 + i * 35;
          return (
            <g key={lab}>
              <line x1={legendX + 15} x2={legendX + 89} y1={cy} y2={cy} stroke={STYLES[i].color}
                strokeWidth={STYLES[i].width} strokeDasharray={STYLES[i].dash} />
              <text x={legendX + 97} y={cy + 9} fontSize={24}>{lab}</text>
            </g>
          );
        })}
      </g>
    </svg>
  );
}
